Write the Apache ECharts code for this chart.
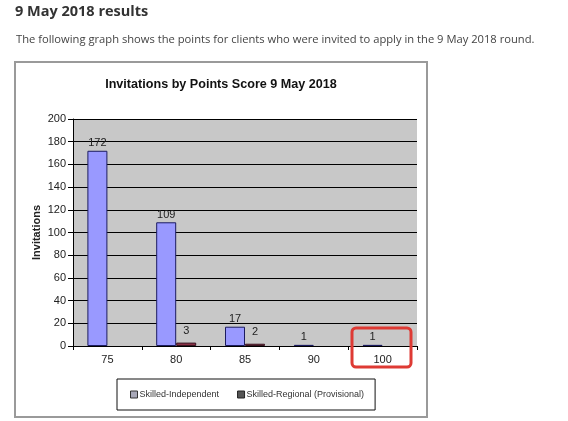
<!DOCTYPE html>
<html><head><meta charset="utf-8">
<script src="https://cdn.jsdelivr.net/npm/echarts@6/dist/echarts.min.js"></script>
<style>html,body{margin:0;padding:0;background:#fff}#c{width:568px;height:421px}</style>
</head><body><div id="c"></div>
<script>
var categories = ['75', '80', '85', '90', '100'];
var skilledIndependent = [172, 109, 17, 1, 1];
var skilledRegional = [null, 3, 2, null, null];
var yTicks = {min: 0, max: 200, interval: 20};

var chart = echarts.init(document.getElementById('c'), null, {renderer: 'canvas'});
var axisFont = {fontFamily: 'Arial, Liberation Sans, sans-serif', fontSize: 11, color: '#222'};
chart.setOption({
  animation: false,
  backgroundColor: '#fff',
  graphic: [
    {type: 'rect', z: -10, shape: {x: 15, y: 62, width: 412, height: 355},
     style: {fill: '#fff', stroke: '#9a9a9a', lineWidth: 2}},
    {type: 'text', left: 15, top: 4,
     style: {text: '9 May 2018 results', font: 'bold 14.5px "Open Sans", sans-serif', fill: '#333'}},
    {type: 'text', left: 16, top: 34,
     style: {text: 'The following graph shows the points for clients who were invited to apply in the 9 May 2018 round.',
             font: '11.2px "Open Sans", sans-serif', fill: '#444'}},
    {type: 'rect', z: 100, shape: {x: 352, y: 328, width: 59, height: 39, r: 4},
     style: {fill: 'none', stroke: '#de3a34', lineWidth: 3}}
  ],
  title: {
    text: 'Invitations by Points Score 9 May 2018',
    left: 216, top: 73, textAlign: 'center',
    textStyle: {fontFamily: 'Arial, Liberation Sans, sans-serif', fontSize: 12.6, fontWeight: 'bold', color: '#111'}
  },
  legend: {
    left: 117, top: 379,
    padding: [11, 11, 11, 13],
    borderColor: '#111', borderWidth: 1,
    itemGap: 18, itemWidth: 7, itemHeight: 7,
    icon: 'rect',
    textStyle: {fontFamily: 'Arial, Liberation Sans, sans-serif', fontSize: 9, color: '#333', padding: [0,0,0,-3]},
    data: [
      {name: 'Skilled-Independent', itemStyle: {color: '#a8a8b8', borderColor: '#333', borderWidth: 1}},
      {name: 'Skilled-Regional (Provisional)', itemStyle: {color: '#555', borderColor: '#222', borderWidth: 1}}
    ]
  },
  grid: {left: 73, right: 151, top: 119, bottom: 75, show: true, backgroundColor: '#c8c8c8', borderWidth: 0},
  xAxis: {
    type: 'category', data: categories,
    axisLine: {lineStyle: {color: '#000', width: 1}},
    axisTick: {show: true, length: 4, lineStyle: {color: '#000'}},
    axisLabel: Object.assign({margin: 8}, axisFont)
  },
  yAxis: {
    type: 'value', min: yTicks.min, max: yTicks.max, interval: yTicks.interval,
    name: 'Invitations', nameLocation: 'middle', nameGap: 31, nameMoveOverlap: false,
    nameTextStyle: {fontFamily: 'Arial, Liberation Sans, sans-serif', fontSize: 11, fontWeight: 'bold', color: '#222'},
    axisLine: {show: true, lineStyle: {color: '#000'}},
    axisTick: {show: true, length: 5, lineStyle: {color: '#000'}},
    axisLabel: Object.assign({margin: 7}, axisFont),
    splitLine: {lineStyle: {color: '#000', width: 1}}
  },
  series: [
    {name: 'Skilled-Independent', type: 'bar', data: skilledIndependent, barWidth: 20, barGap: '0%',
     itemStyle: {color: '#9999ff', borderColor: '#1c1c60', borderWidth: 1},
     label: Object.assign({show: true, position: 'top', distance: 2}, axisFont)},
    {name: 'Skilled-Regional (Provisional)', type: 'bar', data: skilledRegional, barWidth: 20,
     itemStyle: {color: '#8a3045', borderColor: '#3a1420', borderWidth: 1},
     label: Object.assign({show: true, position: 'top', distance: 6}, axisFont)}
  ]
});
</script></body></html>
